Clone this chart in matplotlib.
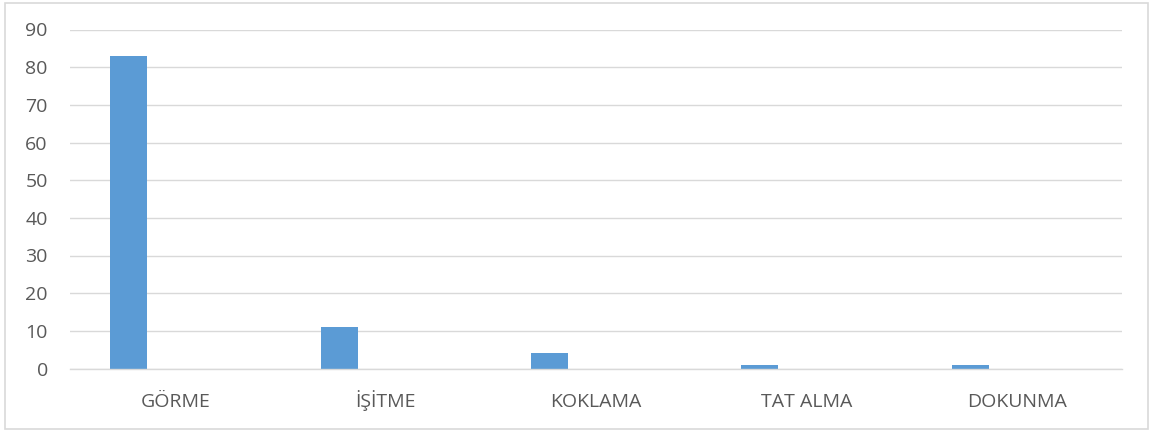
import matplotlib.pyplot as plt
from matplotlib.patches import Rectangle

# Data
categories = ["GÖRME", "İŞİTME", "KOKLAMA", "TAT ALMA", "DOKUNMA"]
values = [83, 11, 4, 1, 1]
y_ticks = [0, 10, 20, 30, 40, 50, 60, 70, 80, 90]

plt.rcParams['font.family'] = ['Open Sans', 'DejaVu Sans']

fig = plt.figure(figsize=(11.52, 4.32), dpi=100)
ax = fig.add_axes([70 / 1152, 1 - 368.5 / 432, 1052 / 1152, 339 / 432])

# bars sit left of the category centre, like an Excel clustered chart
positions = list(range(len(categories)))
bar_pos = [p - 0.221 for p in positions]
ax.bar(bar_pos, values, width=0.176, color="#5b9bd5", zorder=3)

ax.set_xlim(-0.5, len(categories) - 0.5)
ax.set_ylim(0, 90)
ax.set_yticks(y_ticks)
ax.set_xticks(positions)
ax.set_xticklabels(categories)

ax.grid(axis="y", color="#d9d9d9", linewidth=1, zorder=0)
for side in ["top", "right", "left"]:
    ax.spines[side].set_visible(False)
ax.spines["bottom"].set_color("#d9d9d9")
ax.spines["bottom"].set_linewidth(1)
ax.spines["bottom"].set_zorder(4)

ax.tick_params(axis="both", length=0, labelsize=14, labelcolor="#595959")
ax.tick_params(axis="y", pad=16)
ax.tick_params(axis="x", pad=27.5)
# align category labels on their baseline so the dotted İ does not push one down
for lbl in ax.get_xticklabels():
    lbl.set_verticalalignment("baseline")

# light gray outer frame of the chart
fig.patches.append(Rectangle((5 / 1152, 3 / 432), 1143 / 1152, 426 / 432,
                             transform=fig.transFigure, fill=False,
                             edgecolor="#d9d9d9", linewidth=1.2))

fig.savefig("out.png", dpi=100)
